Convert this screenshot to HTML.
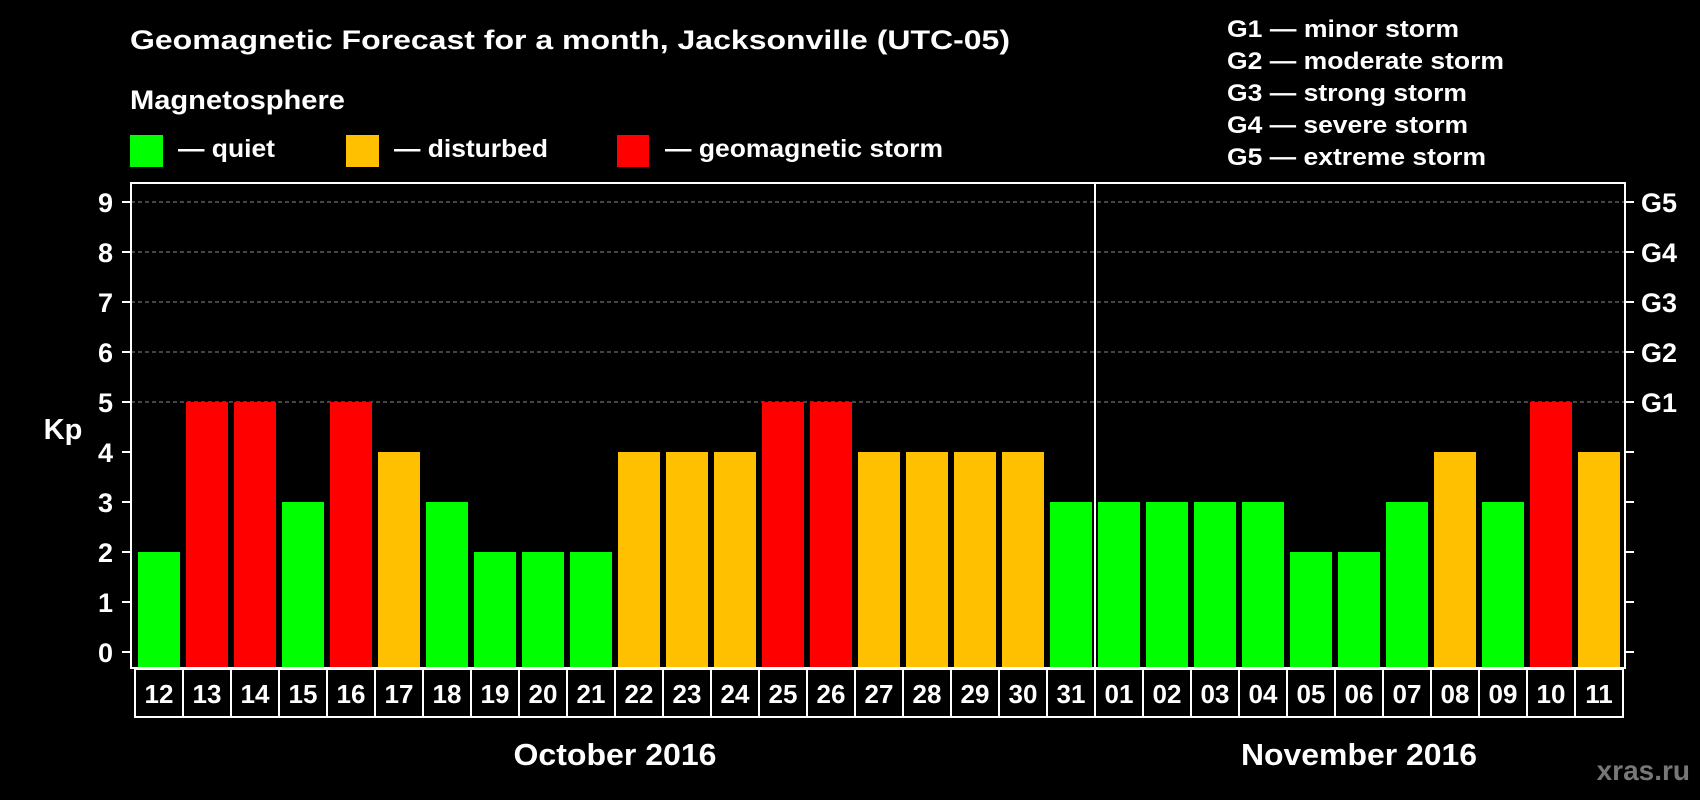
<!DOCTYPE html>
<html><head><meta charset="utf-8"><style>
html,body{margin:0;padding:0;background:#000;}
svg{display:block;font-family:"Liberation Sans",Arial,sans-serif;font-weight:bold;}
</style></head><body>
<svg id="chart" width="1700" height="800" viewBox="0 0 1700 800" xmlns="http://www.w3.org/2000/svg">
<rect width="1700" height="800" fill="#000"/>
<text x="130" y="49" fill="#fff" font-size="27" textLength="880" lengthAdjust="spacingAndGlyphs">Geomagnetic Forecast for a month, Jacksonville (UTC-05)</text>
<text x="130" y="109" fill="#fff" font-size="27" textLength="215" lengthAdjust="spacingAndGlyphs">Magnetosphere</text>
<g>
<rect x="130" y="135" width="33" height="32" fill="#00ff00"/>
<text x="178" y="157" fill="#fff" font-size="25" textLength="97" lengthAdjust="spacingAndGlyphs">— quiet</text></g>
<g>
<rect x="346" y="135" width="33" height="32" fill="#ffc000"/>
<text x="394" y="157" fill="#fff" font-size="25" textLength="154" lengthAdjust="spacingAndGlyphs">— disturbed</text></g>
<g>
<rect x="617" y="135" width="32" height="32" fill="#ff0000"/>
<text x="665" y="157" fill="#fff" font-size="25" textLength="278" lengthAdjust="spacingAndGlyphs">— geomagnetic storm</text></g>
<g fill="#fff" font-size="24">
<text x="1227" y="37" textLength="232" lengthAdjust="spacingAndGlyphs">G1 — minor storm</text>
<text x="1227" y="69" textLength="277" lengthAdjust="spacingAndGlyphs">G2 — moderate storm</text>
<text x="1227" y="101" textLength="240" lengthAdjust="spacingAndGlyphs">G3 — strong storm</text>
<text x="1227" y="133" textLength="241" lengthAdjust="spacingAndGlyphs">G4 — severe storm</text>
<text x="1227" y="165" textLength="259" lengthAdjust="spacingAndGlyphs">G5 — extreme storm</text>
</g>
<text x="63" y="439" fill="#fff" font-size="29" text-anchor="middle">Kp</text>
<g id="grid"></g>
<g id="bars"></g>
<rect x="131" y="183" width="1494" height="485" fill="none" stroke="#fff" stroke-width="2"/>
<line x1="1095" y1="183" x2="1095" y2="668" stroke="#fff" stroke-width="2"/>
<g id="axes"></g>
<g id="cells"></g>
<text x="615" y="765" fill="#fff" font-size="31" text-anchor="middle" textLength="203" lengthAdjust="spacingAndGlyphs">October 2016</text>
<text x="1359" y="765" fill="#fff" font-size="31" text-anchor="middle" textLength="236" lengthAdjust="spacingAndGlyphs">November 2016</text>
<text x="1690" y="780" fill="#777" font-size="28" text-anchor="end">xras.ru</text>
</svg>
<script>
const days = ["12","13","14","15","16","17","18","19","20","21","22","23","24","25","26","27","28","29","30","31","01","02","03","04","05","06","07","08","09","10","11"];
const kpValues = [2,5,5,3,5,4,3,2,2,2,4,4,4,5,5,4,4,4,4,3,3,3,3,3,2,2,3,4,3,5,4];
const yTicks = [0,1,2,3,4,5,6,7,8,9];
const gLabels = ["","","","","","G1","G2","G3","G4","G5"];
const NS="http://www.w3.org/2000/svg";
const plotBottom=668, y0=652, unit=50;
function yScale(v){return y0-v*unit;}
function xScale(i){return 138+i*48;}
function colorFor(v){return v>=5?"#ff0000":(v>=4?"#ffc000":"#00ff00");}
function mk(tag,attrs,parent){const e=document.createElementNS(NS,tag);for(const k in attrs)e.setAttribute(k,attrs[k]);parent.appendChild(e);return e;}
const grid=document.getElementById('grid'),bars=document.getElementById('bars'),axes=document.getElementById('axes'),cells=document.getElementById('cells');
yTicks.forEach((t,i)=>{
  const y=yScale(t);
  if(t>=5){const g=mk('line',{x1:131,x2:1625,y1:y,y2:y,stroke:'#888','stroke-width':1,'stroke-dasharray':'4,3'},grid);
    
    }
  mk('line',{x1:122,x2:131,y1:y,y2:y,stroke:'#fff','stroke-width':2},axes);
  mk('line',{x1:1625,x2:1634,y1:y,y2:y,stroke:'#fff','stroke-width':2},axes);
  const l=mk('text',{x:113,y:y+10,fill:'#fff','font-size':27,'text-anchor':'end'},axes);
  l.textContent=t;
  
  
  if(gLabels[i]){const r=mk('text',{x:1641,y:y+10,fill:'#fff','font-size':27},axes);
    r.textContent=gLabels[i];
    
    }
});
kpValues.forEach((v,i)=>{
  const x=xScale(i),y=yScale(v);
  const b=mk('rect',{x:x,y:y,width:42,height:plotBottom-y,fill:colorFor(v)},bars);
  
  
  const c=mk('rect',{x:135+i*48,y:669,width:48,height:48,fill:'#000',stroke:'#fff','stroke-width':2},cells);
  
  
  const t=mk('text',{x:135+i*48+24,y:703,fill:'#fff','font-size':26,'text-anchor':'middle'},cells);
  t.textContent=days[i];
  
  
});
</script>
</body></html>
